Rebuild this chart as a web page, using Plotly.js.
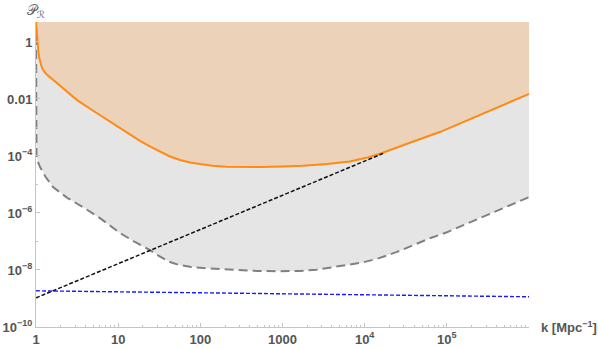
<!DOCTYPE html>
<html>
<head>
<meta charset="utf-8">
<script src="https://cdn.plot.ly/plotly-3.0.1.min.js"></script>
<style>html,body{margin:0;padding:0;background:#fff;}#chart{width:598px;height:349px;}</style>
</head>
<body>
<div id="chart"></div>
<script>
// Upper bound (orange) curve: k [Mpc^-1], P_R
const orangeK = [1, 1.01, 1.028, 1.045, 1.07, 1.1, 1.14, 1.18, 1.26, 1.35, 1.61, 2.25, 3.16, 4.8, 7.5, 10.5, 18.4, 25, 32.3, 42, 56.5, 75, 98.9, 140, 211, 331, 531, 1000, 1770, 3500, 6610, 10500, 16600, 35500, 82200, 1e6];
const orangeP = [5.0, 3.0, 1.6, 0.9, 0.45, 0.26, 0.17, 0.125, 0.09, 0.072, 0.047, 0.021, 0.0091, 0.0041, 0.0018, 9.6e-4, 3.4e-4, 2.1e-4, 1.4e-4, 9.8e-5, 7.2e-5, 5.9e-5, 5.2e-5, 4.55e-5, 4.2e-5, 4.1e-5, 4.1e-5, 4.25e-5, 4.5e-5, 5.2e-5, 6.4e-5, 8.6e-5, 1.3e-4, 2.9e-4, 6.9e-4, 1.5e-2];

// Lower (gray dashed) curve
const grayK = [1, 1.001, 1.005, 1.014, 1.05, 1.12, 1.3, 1.61, 2.4, 3.73, 6.0, 10.5, 16, 24.4, 32, 42.7, 55, 74.7, 110, 159, 270, 489, 900, 1620, 2600, 3780, 6000, 9510, 15000, 24700, 62300, 1e5, 1e6];
const grayP = [5.0, 1.6e-4, 1.3e-4, 1.05e-4, 6.5e-5, 4.1e-5, 1.9e-5, 8.1e-6, 3.4e-6, 1.6e-6, 6.6e-7, 2.0e-7, 9.6e-8, 5.0e-8, 3.0e-8, 1.9e-8, 1.5e-8, 1.3e-8, 1.17e-8, 1.1e-8, 1.0e-8, 9.3e-9, 9.0e-9, 9.3e-9, 1.02e-8, 1.2e-8, 1.45e-8, 1.85e-8, 2.6e-8, 4.3e-8, 1.3e-7, 2.1e-7, 3.6e-6];

// Black dashed power law
const blackK = [1, 17000];
const blackP = [1.05e-9, 1.25e-4];

// Blue dashed (CMB-like) spectrum
const blueK = [1, 1e6];
const blueP = [1.86e-9, 1.15e-9];

// Region top (beyond plot range)
const topP = 20;

// Tick labels
const xTickVals = [1, 10, 100, 1000, 1e4, 1e5];
const xTickText = ['1', '10', '100', '1000', '10<sup>4</sup>', '10<sup>5</sup>'];
const yTickVals = [1, 1e-2, 1e-4, 1e-6, 1e-8, 1e-10];
const yTickText = ['1', '0.01', '10<sup>\u22124</sup>', '10<sup>\u22126</sup>', '10<sup>\u22128</sup>', '10<sup>\u221210</sup>'];

const xMinor = [];
for (let e = 0; e < 6; e++) for (let m = 2; m <= 9; m++) xMinor.push(m * Math.pow(10, e));
const yMinor = [];
for (let e = -9; e <= 0; e += 2) yMinor.push(Math.pow(10, e));

const grayPolyK = grayK.concat([grayK[grayK.length - 1], grayK[0]]);
const grayPolyP = grayP.concat([topP, topP]);
const orangePolyK = orangeK.concat([orangeK[orangeK.length - 1], orangeK[0]]);
const orangePolyP = orangeP.concat([topP, topP]);

const traces = [
  {x: grayPolyK, y: grayPolyP, type: 'scatter', mode: 'lines', fill: 'toself', fillcolor: '#e5e5e5', line: {width: 0}, hoverinfo: 'skip'},
  {x: orangePolyK, y: orangePolyP, type: 'scatter', mode: 'lines', fill: 'toself', fillcolor: '#ebd2b8', line: {width: 0}, hoverinfo: 'skip'},
  {x: grayK, y: grayP, type: 'scatter', mode: 'lines', line: {color: '#808080', width: 2, dash: '9px,5px'}},
  {x: orangeK, y: orangeP, type: 'scatter', mode: 'lines', line: {color: '#ff8a14', width: 2}},
  {x: blackK, y: blackP, type: 'scatter', mode: 'lines', line: {color: '#111', width: 1.5, dash: '4px,2px'}},
  {x: blueK, y: blueP, type: 'scatter', mode: 'lines', line: {color: '#1a1aff', width: 1.4, dash: '4px,2px'}}
];

const tickFont = {family: 'Liberation Sans, Arial, sans-serif', size: 13, color: '#555555', weight: 'bold'};

const layout = {
  width: 598, height: 349,
  margin: {l: 36, r: 69, t: 22, b: 22},
  paper_bgcolor: '#fff', plot_bgcolor: '#fff',
  showlegend: false,
  xaxis: {
    type: 'log', range: [0, 6], showgrid: false, zeroline: false,
    showline: true, linecolor: '#c4c4c4', linewidth: 1,
    ticks: 'inside', ticklen: 4, tickcolor: '#c4c4c4', tickwidth: 1,
    tickmode: 'array', tickvals: xTickVals, ticktext: xTickText,
    tickfont: tickFont,
    minor: {tickmode: 'array', tickvals: xMinor, ticks: 'inside', ticklen: 2, tickcolor: '#c4c4c4', tickwidth: 1, showgrid: false}
  },
  yaxis: {
    type: 'log', range: [-10, 0.7], showgrid: false, zeroline: false,
    showline: true, linecolor: '#c4c4c4', linewidth: 1,
    ticks: 'inside', ticklen: 4, tickcolor: '#c4c4c4', tickwidth: 1,
    tickmode: 'array', tickvals: yTickVals, ticktext: yTickText,
    tickfont: tickFont,
    minor: {tickmode: 'array', tickvals: yMinor, ticks: 'inside', ticklen: 2, tickcolor: '#c4c4c4', tickwidth: 1, showgrid: false}
  },
  annotations: [
    {text: '\uD835\uDCAB<sub>\u211B</sub>', xref: 'paper', yref: 'paper', x: 0, y: 1, xanchor: 'center', yanchor: 'middle', xshift: 0, yshift: 11, showarrow: false, font: {family: 'DejaVu Sans, sans-serif', size: 14, color: '#666'}},
    {text: 'k [Mpc<sup>\u22121</sup>]', xref: 'paper', yref: 'paper', x: 1, y: 0, xanchor: 'left', yanchor: 'middle', xshift: 10, showarrow: false, font: {family: 'Liberation Sans, Arial, sans-serif', size: 13, color: '#555', weight: 'bold'}}
  ]
};

Plotly.newPlot('chart', traces, layout, {staticPlot: true, displayModeBar: false});
</script>
</body>
</html>
